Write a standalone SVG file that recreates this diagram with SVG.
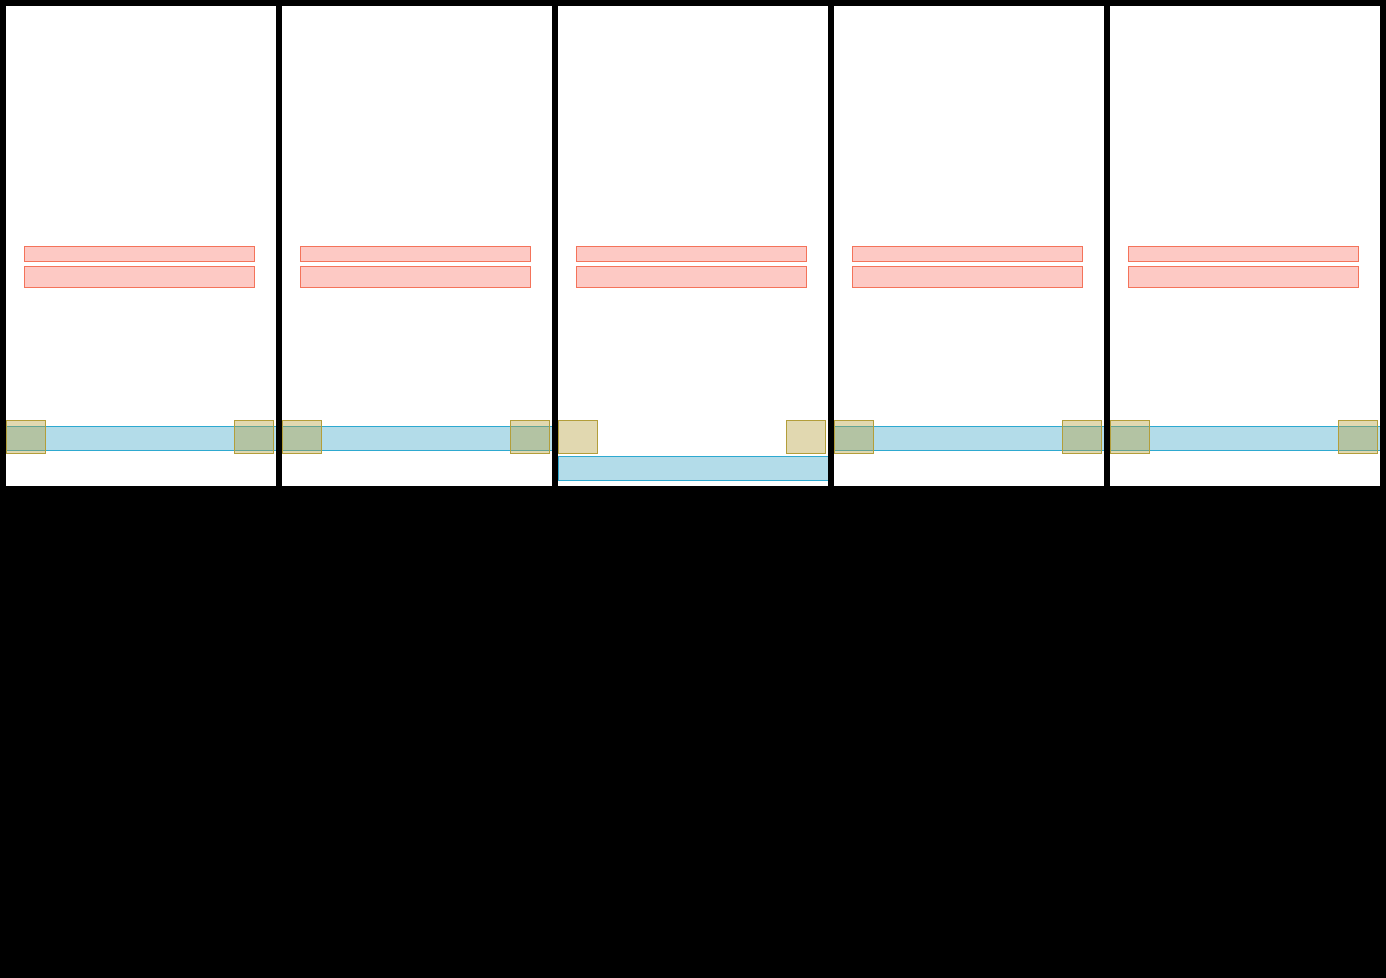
<svg xmlns="http://www.w3.org/2000/svg" width="1386" height="978" viewBox="0 0 1386 978">
<style>
.panel{fill:#ffffff;stroke:none}
.red{fill:#fdc9c4;stroke:#f4735a;stroke-width:1}
.blue{fill:#b3dce9;stroke:#2ea9d0;stroke-width:1}
.tan{fill:#b39e3a;fill-opacity:0.4;stroke:#b39e3a;stroke-width:1}
</style>
<defs>
<clipPath id="c1"><rect x="6" y="6" width="270" height="480"/></clipPath>
<clipPath id="c2"><rect x="282" y="6" width="270" height="480"/></clipPath>
<clipPath id="c3"><rect x="558" y="6" width="270" height="480"/></clipPath>
<clipPath id="c4"><rect x="834" y="6" width="270" height="480"/></clipPath>
<clipPath id="c5"><rect x="1110" y="6" width="270" height="480"/></clipPath>
</defs>
<rect x="0" y="0" width="1386" height="978" fill="#000000"/>
<g id="panel1" clip-path="url(#c1)">
<rect class="panel" x="6" y="6" width="270" height="480"/>
<rect class="red" x="24.5" y="246.5" width="230" height="15"/>
<rect class="red" x="24.5" y="266.5" width="230" height="21"/>
<rect class="blue" x="5" y="426.5" width="272" height="24"/>
<rect class="tan" x="6.5" y="420.5" width="39" height="33"/>
<rect class="tan" x="234.5" y="420.5" width="39" height="33"/>
</g>
<g id="panel2" clip-path="url(#c2)">
<rect class="panel" x="282" y="6" width="270" height="480"/>
<rect class="red" x="300.5" y="246.5" width="230" height="15"/>
<rect class="red" x="300.5" y="266.5" width="230" height="21"/>
<rect class="blue" x="281" y="426.5" width="272" height="24"/>
<rect class="tan" x="282.5" y="420.5" width="39" height="33"/>
<rect class="tan" x="510.5" y="420.5" width="39" height="33"/>
</g>
<g id="panel3" clip-path="url(#c3)">
<rect class="panel" x="558" y="6" width="270" height="480"/>
<rect class="red" x="576.5" y="246.5" width="230" height="15"/>
<rect class="red" x="576.5" y="266.5" width="230" height="21"/>
<rect class="blue" x="558.5" y="456.5" width="270" height="24"/>
<rect class="tan" x="558.5" y="420.5" width="39" height="33"/>
<rect class="tan" x="786.5" y="420.5" width="39" height="33"/>
</g>
<g id="panel4" clip-path="url(#c4)">
<rect class="panel" x="834" y="6" width="270" height="480"/>
<rect class="red" x="852.5" y="246.5" width="230" height="15"/>
<rect class="red" x="852.5" y="266.5" width="230" height="21"/>
<rect class="blue" x="833" y="426.5" width="272" height="24"/>
<rect class="tan" x="834.5" y="420.5" width="39" height="33"/>
<rect class="tan" x="1062.5" y="420.5" width="39" height="33"/>
</g>
<g id="panel5" clip-path="url(#c5)">
<rect class="panel" x="1110" y="6" width="270" height="480"/>
<rect class="red" x="1128.5" y="246.5" width="230" height="15"/>
<rect class="red" x="1128.5" y="266.5" width="230" height="21"/>
<rect class="blue" x="1109" y="426.5" width="272" height="24"/>
<rect class="tan" x="1110.5" y="420.5" width="39" height="33"/>
<rect class="tan" x="1338.5" y="420.5" width="39" height="33"/>
</g>
<g id="connectors"></g>
</svg>
